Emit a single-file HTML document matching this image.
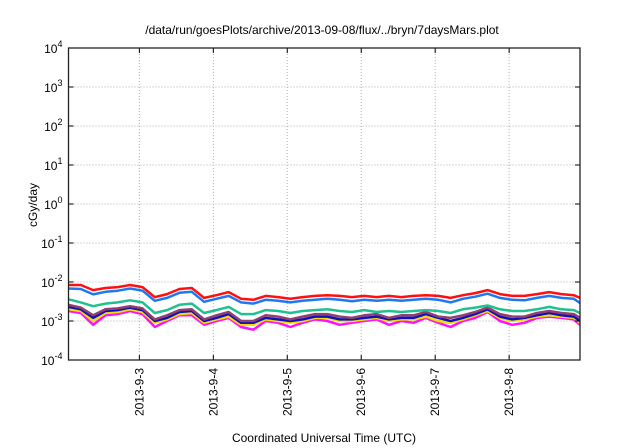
<!DOCTYPE html>
<html><head><meta charset="utf-8"><style>
body{margin:0;background:#fff;}
svg{display:block;font-family:"Liberation Sans",sans-serif;}
</style></head><body>
<svg id="chart" width="640" height="448" viewBox="0 0 640 448">
<rect width="640" height="448" fill="#fff"/>
<text x="322" y="34" font-size="12" text-anchor="middle">/data/run/goesPlots/archive/2013-09-08/flux/../bryn/7daysMars.plot</text>
<text x="324" y="442" font-size="12" text-anchor="middle">Coordinated Universal Time (UTC)</text>
<text transform="translate(37,205) rotate(-90)" font-size="12" text-anchor="middle">cGy/day</text>
<g id="grid"></g><g id="series"></g><g id="axes"></g>
</svg>
<script>
const hours = [1,5,9,13,17,21,25,29,33,37,41,45,49,53,57,61,65,69,73,77,81,85,89,93,97,101,105,109,113,117,121,125,129,133,137,141,145,149,153,157,161,165,167];
// values in units of 1e-3 cGy/day
const redVals = [8.4,8.4,6.2,7.0,7.4,8.4,7.4,4.1,4.9,6.6,7.0,3.9,4.6,5.5,3.7,3.5,4.4,4.1,3.7,4.1,4.4,4.6,4.4,4.1,4.4,4.1,4.4,4.1,4.4,4.6,4.4,3.9,4.6,5.2,6.2,4.9,4.4,4.4,4.9,5.5,4.9,4.6,3.9];
const blueVals = [6.8,6.6,4.8,5.6,6.0,6.8,6.0,3.3,3.9,5.3,5.6,3.1,3.7,4.4,3.0,2.8,3.5,3.3,3.0,3.3,3.5,3.7,3.5,3.2,3.5,3.3,3.5,3.3,3.5,3.7,3.5,3.0,3.7,4.2,5.0,3.9,3.5,3.4,3.9,4.4,3.9,3.7,2.9];
const greenVals = [3.6,3.0,2.4,2.8,3.0,3.4,3.0,1.6,1.9,2.6,2.8,1.6,1.9,2.3,1.5,1.5,1.9,1.8,1.6,1.8,1.9,2.0,1.8,1.7,1.9,1.7,1.8,1.7,1.8,1.9,1.8,1.6,2.0,2.2,2.5,2.0,1.8,1.8,2.0,2.3,2.0,1.9,1.6];
const purpleVals = [2.6,2.2,1.4,2.0,2.1,2.4,2.1,1.1,1.4,1.9,2.0,1.1,1.4,1.7,1.0,1.0,1.4,1.3,1.1,1.3,1.5,1.5,1.3,1.2,1.4,1.5,1.2,1.4,1.4,1.7,1.3,1.2,1.4,1.7,2.2,1.5,1.3,1.3,1.6,1.8,1.6,1.5,1.2];
const navyVals = [2.3,2.0,1.2,1.8,1.9,2.2,1.9,1.0,1.2,1.7,1.8,1.0,1.2,1.5,0.9,0.9,1.2,1.1,1.0,1.1,1.3,1.3,1.1,1.1,1.2,1.3,1.1,1.2,1.2,1.5,1.2,1.0,1.2,1.5,2.0,1.3,1.1,1.2,1.4,1.6,1.4,1.3,1.0];
const yellowVals = [2.0,1.8,1.0,1.6,1.7,2.0,1.7,0.9,1.1,1.5,1.6,0.9,1.1,1.3,0.8,0.8,1.1,1.0,0.9,1.0,1.2,1.2,1.0,1.0,1.1,1.2,1.0,1.1,1.1,1.3,1.0,0.9,1.1,1.4,1.8,1.2,1.0,1.1,1.3,1.4,1.3,1.2,0.9];
const magentaVals = [1.8,1.6,0.8,1.4,1.5,1.8,1.5,0.7,1.0,1.4,1.4,0.8,1.0,1.2,0.7,0.6,1.0,0.9,0.7,0.9,1.1,1.0,0.8,0.9,1.0,1.1,0.8,1.0,0.9,1.2,0.9,0.7,1.0,1.2,1.7,1.0,0.8,0.9,1.2,1.3,1.2,1.1,0.8];
const yExps = [-4,-3,-2,-1,0,1,2,3,4];
const dayLabels = ["2013-9-3","2013-9-4","2013-9-5","2013-9-6","2013-9-7","2013-9-8"];
const dayHours = [24,48,72,96,120,144];

const L=68.5,R=580,T=48,B=360;
const H0=1,H1=167;
function xs(h){return L+(h-H0)*(R-L)/(H1-H0);}
function ys(v){return B-(Math.log10(v)+4)*(B-T)/8;}
const NS="http://www.w3.org/2000/svg";
function mk(tag,attrs,parent){const e=document.createElementNS(NS,tag);for(const k in attrs)e.setAttribute(k,attrs[k]);parent.appendChild(e);return e;}
const grid=document.getElementById('grid'),axes=document.getElementById('axes'),ser=document.getElementById('series');

yExps.forEach(ex=>{
  const y=ys(Math.pow(10,ex));
  if(ex>-4&&ex<4){const g=mk('line',{x1:L,x2:R,y1:y,y2:y,stroke:'#b0b0b0','stroke-dasharray':'1,2','stroke-width':1},grid);
  
  }
  mk('line',{x1:L,x2:L+5,y1:y,y2:y,stroke:'#000'},axes);
  mk('line',{x1:R,x2:R-5,y1:y,y2:y,stroke:'#000'},axes);
  const t=mk('text',{x:L-6,y:y+5,'font-size':12,'text-anchor':'end'},axes);
  
  
  t.appendChild(document.createTextNode('10'));
  const s=mk('tspan',{dy:-6,'font-size':9},t);s.textContent=String(ex);
});
dayHours.forEach((h,i)=>{
  const x=xs(h);
  const g=mk('line',{x1:x,x2:x,y1:T,y2:B,stroke:'#b0b0b0','stroke-dasharray':'1,2'},grid);
  
  
  mk('line',{x1:x,x2:x,y1:B,y2:B-5,stroke:'#000'},axes);
  mk('line',{x1:x,x2:x,y1:T,y2:T+5,stroke:'#000'},axes);
  const t=mk('text',{transform:`translate(${x+4},${368}) rotate(-90)`,'font-size':12,'text-anchor':'end'},axes);
  
  
  t.textContent=dayLabels[i];
});
const fr=mk('rect',{x:L,y:T,width:R-L,height:B-T,fill:'none',stroke:'#222','stroke-width':1.3},axes);



const series=[[redVals,'#ff1010','series-red'],[blueVals,'#1f78f0','series-blue'],[greenVals,'#20c090','series-green'],[purpleVals,'#904070','series-purple'],[navyVals,'#1010c0','series-navy'],[yellowVals,'#f0e000','series-yellow'],[magentaVals,'#ff10ff','series-magenta']];
series.slice().reverse().forEach(([vals,col,name])=>{
  const d=vals.map((v,i)=>(i?'L':'M')+xs(hours[i]).toFixed(1)+','+ys(v/1000).toFixed(1)).join('');
  const p=mk('path',{d:d,fill:'none',stroke:col,'stroke-width':2.5,'stroke-linejoin':'round'},ser);
  
  
});
</script>
</body></html>
